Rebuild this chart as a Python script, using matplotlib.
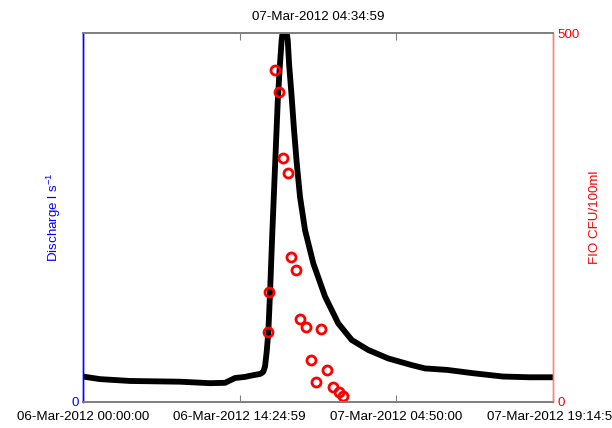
import datetime as dt
import matplotlib
matplotlib.use("Agg")
import matplotlib.pyplot as plt
from matplotlib.ticker import FixedFormatter

plt.rcParams["font.family"] = ["Liberation Sans", "DejaVu Sans"]
plt.rcParams["mathtext.fontset"] = "custom"
plt.rcParams["mathtext.rm"] = "Liberation Sans"
plt.rcParams["mathtext.it"] = "Liberation Sans"

start = dt.datetime(2012, 3, 6, 0, 0, 0)
end = start + dt.timedelta(hours=43, minutes=14, seconds=59)

tick_labels = ["06-Mar-2012 00:00:00", "06-Mar-2012 14:24:59",
               "07-Mar-2012 04:50:00", "07-Mar-2012 19:14:59"]

# Discharge (l/s), hours since start
q_hours = [0.0, 1.56, 4.32, 8.93, 11.69, 13.07, 13.99, 14.91, 15.37, 16.29,
           16.47, 16.59, 16.75, 16.90, 17.05, 17.21, 17.42, 17.67, 17.92,
           18.09, 18.28, 18.54, 18.84, 18.96, 19.20, 19.42, 19.67, 19.97,
           20.43, 21.19, 22.27, 23.49, 24.73, 26.25, 28.09, 30.25, 31.47,
           33.50, 35.89, 38.65, 41.13, 43.25]
discharge = [6.9, 6.2, 5.7, 5.5, 5.1, 5.2, 6.5, 6.8, 7.1, 7.6,
             7.9, 8.2, 9.6, 13.5, 18.7, 29.5, 45.8, 63.7, 81.4,
             90.0, 98.1, 104.0, 98.1, 91.8, 82.7, 73.7, 64.7, 55.6,
             46.6, 37.6, 28.6, 21.3, 16.8, 14.1, 11.8, 10.0, 9.1,
             8.7, 7.8, 6.9, 6.7, 6.7]

# Faecal indicator organism samples (CFU/100ml), hours since start
fio_hours = [17.05, 17.12, 17.67, 18.01, 18.43, 18.86, 19.14, 19.60, 20.00,
             20.49, 20.94, 21.41, 21.93, 22.42, 22.97, 23.52, 23.89]
fio = [95, 149, 450, 420, 330, 310, 197, 179, 113,
       101, 57, 27, 99, 43, 20, 13, 8.5]

q_times = [start + dt.timedelta(hours=h) for h in q_hours]
fio_times = [start + dt.timedelta(hours=h) for h in fio_hours]
tick_times = [dt.datetime.strptime(s, "%d-%b-%Y %H:%M:%S") for s in tick_labels]

fig = plt.figure(figsize=(6.12, 4.28), dpi=100)
ax = fig.add_axes([83 / 612, 1 - 402 / 428, 470 / 612, 369 / 428])
ax2 = ax.twinx()

ax.plot(q_times, discharge, color="black", lw=4.2, solid_joinstyle="round",
        solid_capstyle="butt")
ax2.plot(fio_times, fio, linestyle="none", marker="o", ms=6.5,
         mfc="none", mec="red", mew=2.0)

ax.set_xlim(start, end)
ax.set_ylim(0, 100)
ax2.set_ylim(0, 500)

ax.set_xticks(tick_times)
ax.xaxis.set_major_formatter(FixedFormatter(tick_labels))

ax.set_yticks([0])
ax2.set_yticks([0, 500])

fs = 9.6
grey = "#808080"
ax.tick_params(axis="x", direction="in", length=5, color=grey, labelsize=fs,
               pad=6.5, top=True, labelcolor="black")
ax.tick_params(axis="y", direction="in", length=0, labelsize=fs,
               labelcolor="blue", pad=3)
ax2.tick_params(axis="y", direction="in", length=0, labelsize=fs,
                labelcolor="red", pad=3)

for a in (ax, ax2):
    a.spines["top"].set_color(grey)
    a.spines["bottom"].set_color(grey)
    a.spines["top"].set_linewidth(1.3)
    a.spines["bottom"].set_linewidth(1.3)
    a.spines["left"].set_color("blue")
    a.spines["right"].set_color("#ff8080")
    a.spines["left"].set_linewidth(1.0)
    a.spines["right"].set_linewidth(1.0)

ax.set_ylabel("Discharge l s$^{-1}$", color="blue", fontsize=fs)
ax.yaxis.set_label_coords(-0.043, 0.5)
ax2.set_ylabel("FIO CFU/100ml", color="red", fontsize=fs)
ax2.yaxis.set_label_coords(1.0765, 0.5)

ax.set_title("07-Mar-2012 04:34:59", fontsize=fs, pad=9)

fig.savefig("out.png", dpi=100)
